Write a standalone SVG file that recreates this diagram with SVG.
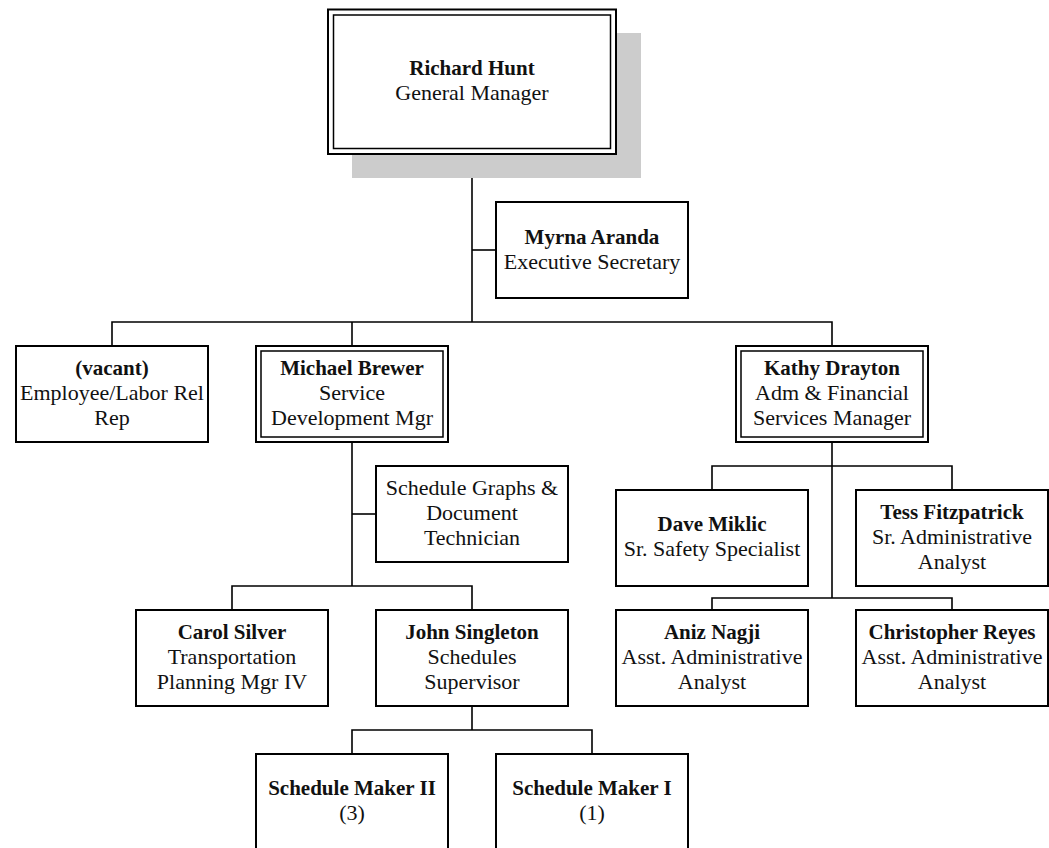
<svg xmlns="http://www.w3.org/2000/svg" width="1049" height="848" viewBox="0 0 1049 848">
<style>
  .box { fill: #ffffff; stroke: #000000; stroke-width: 2; }
  .inner { fill: none; stroke: #000000; stroke-width: 1.5; }
  .shadow { fill: #cccccc; stroke: none; }
  .conn { fill: none; stroke: #000000; stroke-width: 1.6; }
  text { font-family: "Liberation Serif", "Times New Roman", serif; font-size: 22px; fill: #111111; text-anchor: middle; }
  .name { font-weight: bold; font-size: 21px; }
</style>
<rect width="1049" height="848" fill="#ffffff"/>
<g id="connectors">
  <path class="conn" d="M472,154 V322"/>
  <path class="conn" d="M472,250 H496"/>
  <path class="conn" d="M112,346 V322 H832 V346"/>
  <path class="conn" d="M352,322 V346"/>
  <path class="conn" d="M352,442 V586"/>
  <path class="conn" d="M352,514 H376"/>
  <path class="conn" d="M232,610 V586 H472 V610"/>
  <path class="conn" d="M832,442 V598"/>
  <path class="conn" d="M712,490 V466 H952 V490"/>
  <path class="conn" d="M712,610 V598 H952 V610"/>
  <path class="conn" d="M472,706 V730"/>
  <path class="conn" d="M352,754 V730 H592 V754"/>
</g>
<g id="node-richard-hunt">
  <rect class="shadow" x="352" y="33" width="289" height="145"/>
  <rect class="box" x="328" y="9.5" width="288" height="144.5" stroke-width="2.5"/>
  <rect class="inner" x="333.5" y="15" width="277" height="133.5"/>
  <text class="name" x="472" y="75">Richard Hunt</text>
  <text x="472" y="100">General Manager</text>
</g>
<g id="node-myrna-aranda">
  <rect class="box" x="496" y="202" width="192" height="96"/>
  <text class="name" x="592" y="244">Myrna Aranda</text>
  <text x="592" y="269">Executive Secretary</text>
</g>
<g id="node-vacant">
  <rect class="box" x="16" y="346" width="192" height="96"/>
  <text class="name" x="112" y="375">(vacant)</text>
  <text x="112" y="400">Employee/Labor Rel</text>
  <text x="112" y="425">Rep</text>
</g>
<g id="node-michael-brewer">
  <rect class="box" x="256" y="346" width="192" height="96"/>
  <rect class="inner" x="261" y="351" width="182" height="86"/>
  <text class="name" x="352" y="375">Michael Brewer</text>
  <text x="352" y="400">Service</text>
  <text x="352" y="425">Development Mgr</text>
</g>
<g id="node-kathy-drayton">
  <rect class="box" x="736" y="346" width="192" height="96"/>
  <rect class="inner" x="741" y="351" width="182" height="86"/>
  <text class="name" x="832" y="375">Kathy Drayton</text>
  <text x="832" y="400">Adm &amp; Financial</text>
  <text x="832" y="425">Services Manager</text>
</g>
<g id="node-schedule-graphs">
  <rect class="box" x="376" y="466" width="192" height="96"/>
  <text x="472" y="495">Schedule Graphs &amp;</text>
  <text x="472" y="520">Document</text>
  <text x="472" y="545">Technician</text>
</g>
<g id="node-dave-miklic">
  <rect class="box" x="616" y="490" width="192" height="96"/>
  <text class="name" x="712" y="531">Dave Miklic</text>
  <text x="712" y="556">Sr. Safety Specialist</text>
</g>
<g id="node-tess-fitzpatrick">
  <rect class="box" x="856" y="490" width="192" height="96"/>
  <text class="name" x="952" y="519">Tess Fitzpatrick</text>
  <text x="952" y="544">Sr. Administrative</text>
  <text x="952" y="569">Analyst</text>
</g>
<g id="node-carol-silver">
  <rect class="box" x="136" y="610" width="192" height="96"/>
  <text class="name" x="232" y="639">Carol Silver</text>
  <text x="232" y="664">Transportation</text>
  <text x="232" y="689">Planning Mgr IV</text>
</g>
<g id="node-john-singleton">
  <rect class="box" x="376" y="610" width="192" height="96"/>
  <text class="name" x="472" y="639">John Singleton</text>
  <text x="472" y="664">Schedules</text>
  <text x="472" y="689">Supervisor</text>
</g>
<g id="node-aniz-nagji">
  <rect class="box" x="616" y="610" width="192" height="96"/>
  <text class="name" x="712" y="639">Aniz Nagji</text>
  <text x="712" y="664">Asst. Administrative</text>
  <text x="712" y="689">Analyst</text>
</g>
<g id="node-christopher-reyes">
  <rect class="box" x="856" y="610" width="192" height="96"/>
  <text class="name" x="952" y="639">Christopher Reyes</text>
  <text x="952" y="664">Asst. Administrative</text>
  <text x="952" y="689">Analyst</text>
</g>
<g id="node-schedule-maker-ii">
  <rect class="box" x="256" y="754" width="192" height="96"/>
  <text class="name" x="352" y="795">Schedule Maker II</text>
  <text x="352" y="820">(3)</text>
</g>
<g id="node-schedule-maker-i">
  <rect class="box" x="496" y="754" width="192" height="96"/>
  <text class="name" x="592" y="795">Schedule Maker I</text>
  <text x="592" y="820">(1)</text>
</g>
</svg>
